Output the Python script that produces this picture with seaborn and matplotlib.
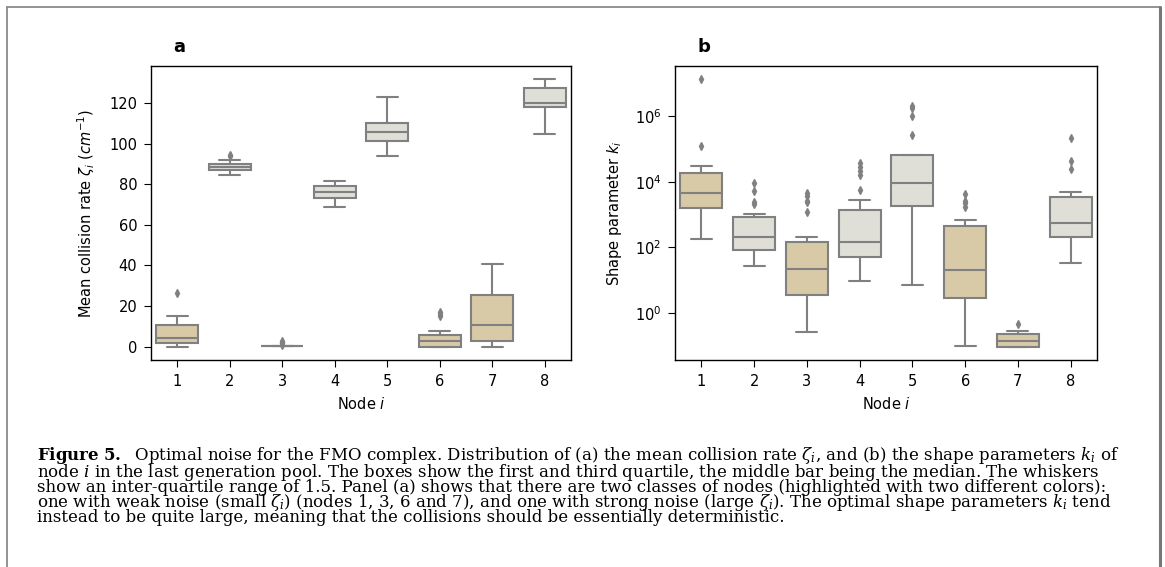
import pandas as pd
import matplotlib.pyplot as plt
import seaborn as sns
from matplotlib.lines import Line2D
from matplotlib.ticker import NullLocator

nodes = ['1', '2', '3', '4', '5', '6', '7', '8']
weak_nodes = ['1', '3', '6', '7']

# panel a: mean collision rate (cm^-1), box statistics
rate_lo = [0.0, 84.5, 0.1, 68.8, 93.7, 0.0, 0.0, 104.7]
rate_q1 = [1.8, 87.2, 0.1, 73.0, 101.1, 0.0, 2.6, 118.0]
rate_med = [4.1, 88.5, 0.1, 76.3, 105.5, 2.6, 10.5, 120.0]
rate_q3 = [10.5, 89.8, 0.1, 79.1, 110.3, 5.8, 25.3, 127.2]
rate_hi = [15.0, 92.0, 0.1, 81.7, 123.0, 7.9, 40.5, 131.6]
rate_fliers = [[26.4], [93.9, 94.4], [0.9, 1.6, 2.1, 2.6], [], [],
               [14.9, 15.9, 17.0], [], []]

# panel b: shape parameter k_i
shape_lo = [187, 27, 0.27, 9.6, 7.1, 0.1, 0.096, 33]
shape_q1 = [1550, 83, 3.5, 51, 1780, 2.9, 0.096, 206]
shape_med = [4500, 210, 22, 149, 9300, 21, 0.143, 562]
shape_q3 = [18000, 820, 145, 1340, 63000, 447, 0.235, 3320]
shape_hi = [31000, 1040, 206, 2820, 65000, 662, 0.296, 4700]
shape_fliers = [[1.2e5, 1.3e7], [2100, 2460, 5400, 8900],
                [1230, 2340, 2630, 3740, 4400],
                [5700, 1.56e4, 2.1e4, 2.8e4, 3.6e4],
                [2.7e5, 1.02e6, 1.74e6, 2.06e6],
                [1740, 2190, 2630, 4200], [0.46], [2.4e4, 4.4e4, 2.2e5]]

tan = '#d8caa6'
light = '#dfdfd8'
line_gray = '#808080'


def box_sample(lo, q1, med, q3, hi, fliers):
    # smallest sample whose quartiles / whiskers / outliers match the stats
    k = len(fliers) + 1
    return [lo] + [q1] * k + [med] * k + [q3] * k + list(fliers) + [hi]


def long_table(lo, q1, med, q3, hi, fliers):
    rows = []
    for i, node in enumerate(nodes):
        for v in box_sample(lo[i], q1[i], med[i], q3[i], hi[i], fliers[i]):
            rows.append((node, v))
    return pd.DataFrame(rows, columns=['node', 'value'])


df_a = long_table(rate_lo, rate_q1, rate_med, rate_q3, rate_hi, rate_fliers)
df_b = long_table(shape_lo, shape_q1, shape_med, shape_q3, shape_hi, shape_fliers)
palette = {n: (tan if n in weak_nodes else light) for n in nodes}

sns.set_style('ticks', {'axes.edgecolor': 'black', 'xtick.color': 'black',
                        'ytick.color': 'black', 'text.color': 'black',
                        'axes.labelcolor': 'black'})
plt.rcParams['font.family'] = ['DejaVu Sans']
plt.rcParams['xtick.major.size'] = 5.3
plt.rcParams['ytick.major.size'] = 5.3
plt.rcParams['xtick.major.pad'] = 4.5
plt.rcParams['ytick.major.pad'] = 4.5
plt.rcParams['axes.linewidth'] = 1.0

W, H = 1165, 567
fig = plt.figure(figsize=(W / 100, H / 100), dpi=100)
ax_a = fig.add_axes([151 / W, 1 - 360 / H, 420 / W, 294 / H])
ax_b = fig.add_axes([675 / W, 1 - 360 / H, 422 / W, 294 / H])

box_kw = dict(x='node', y='value', hue='node', palette=palette, legend=False,
              width=0.8, linewidth=1.5, linecolor=line_gray, saturation=1,
              flierprops=dict(marker='d', markersize=4.2,
                              markerfacecolor=line_gray,
                              markeredgecolor=line_gray))

sns.boxplot(data=df_a, ax=ax_a, **box_kw)
sns.boxplot(data=df_b, ax=ax_b, **box_kw)
ax_b.set_yscale('log')
ax_b.set_yticks([1, 1e2, 1e4, 1e6])
ax_b.yaxis.set_minor_locator(NullLocator())

ax_a.set_ylabel(r'Mean collision rate $\zeta_i$ $(cm^{-1})$', fontsize=10.5,
                labelpad=9)
ax_b.set_ylabel(r'Shape parameter $k_i$', fontsize=10.5, labelpad=8)
for ax in (ax_a, ax_b):
    ax.set_xlabel(r'Node $i$', fontsize=10.5, labelpad=5)
    ax.tick_params(labelsize=10.5)

fig.text(179 / W, 1 - 52 / H, 'a', fontsize=13, fontweight='bold',
         ha='center', va='baseline')
fig.text(704 / W, 1 - 52 / H, 'b', fontsize=13, fontweight='bold',
         ha='center', va='baseline')

# journal frame around figure
frame = '#8a8a8a'
fig.add_artist(Line2D([7 / W, 1160 / W], [1 - 7 / H, 1 - 7 / H],
                      color=frame, lw=1.3, transform=fig.transFigure))
fig.add_artist(Line2D([7 / W, 7 / W], [1 - 7 / H, 0],
                      color=frame, lw=1.3, transform=fig.transFigure))
fig.add_artist(Line2D([1160 / W, 1160 / W], [1 - 7 / H, 0],
                      color='#777777', lw=2.2, transform=fig.transFigure))

caption = [
    r'$\mathbf{Figure\ 5.}$  Optimal noise for the FMO complex. Distribution of (a) the mean collision rate $\zeta_i$, and (b) the shape parameters $k_i$ of',
    r'node $i$ in the last generation pool. The boxes show the first and third quartile, the middle bar being the median. The whiskers',
    r'show an inter-quartile range of 1.5. Panel (a) shows that there are two classes of nodes (highlighted with two different colors):',
    r'one with weak noise (small $\zeta_i$) (nodes 1, 3, 6 and 7), and one with strong noise (large $\zeta_i$). The optimal shape parameters $k_i$ tend',
    r'instead to be quite large, meaning that the collisions should be essentially deterministic.',
]
cap = fig.text(37 / W, 1 - 445 / H, '\n'.join(caption), fontsize=12,
               family=['DejaVu Serif'], ha='left', va='top', linespacing=0.72)
cap.set_math_fontfamily('dejavuserif')

fig.savefig('out.png', dpi=100)
